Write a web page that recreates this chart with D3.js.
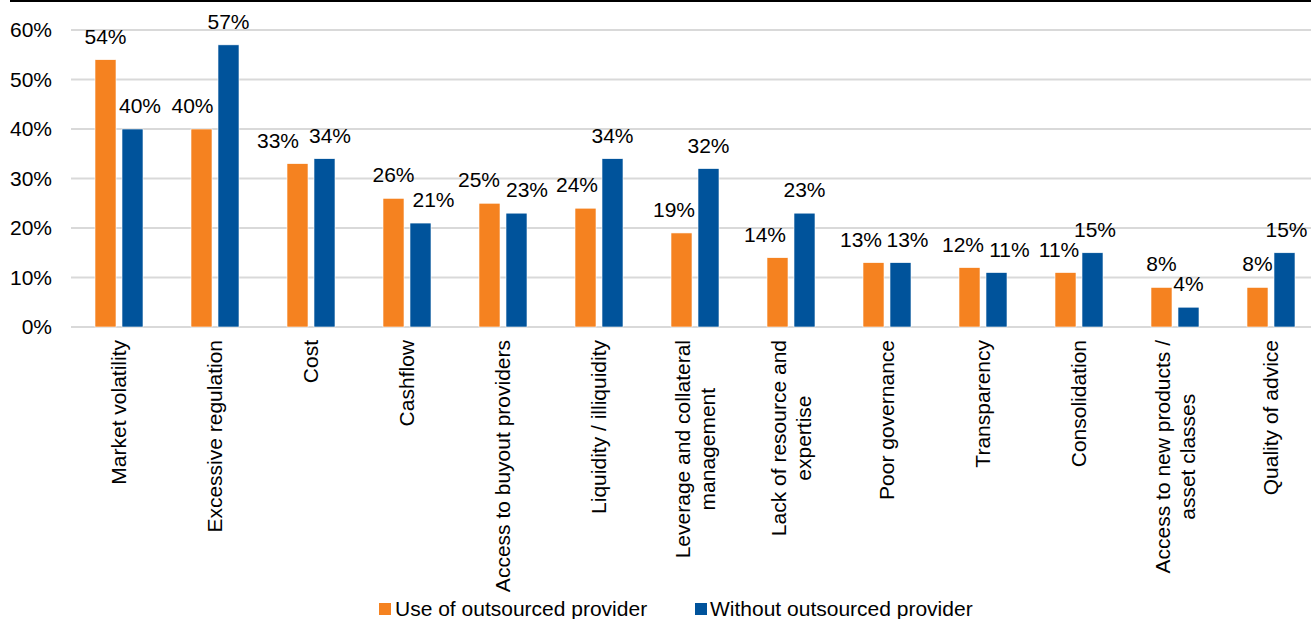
<!DOCTYPE html>
<html>
<head>
<meta charset="utf-8">
<script src="https://cdn.jsdelivr.net/npm/d3@7"></script>
<style>
  html, body { margin: 0; padding: 0; background: #fff; }
  svg { display: block; font-family: "Liberation Sans", Arial, sans-serif; }
</style>
</head>
<body>
<svg id="chart" width="1311" height="619"></svg>
<script>
// Survey categories (line breaks as printed on the axis)
const categories = [
  ["Market volatility"],
  ["Excessive regulation"],
  ["Cost"],
  ["Cashflow"],
  ["Access to buyout providers"],
  ["Liquidity / illiquidity"],
  ["Leverage and collateral", "management"],
  ["Lack of resource and", "expertise"],
  ["Poor governance"],
  ["Transparency"],
  ["Consolidation"],
  ["Access to new products /", "asset classes"],
  ["Quality of advice"]
];
const seriesNames = ["Use of outsourced provider", "Without outsourced provider"];
const withProvider = [54, 40, 33, 26, 25, 24, 19, 14, 13, 12, 11, 8, 8];
const withoutProvider = [40, 57, 34, 21, 23, 34, 32, 23, 13, 11, 15, 4, 15];
const yTicks = [0, 10, 20, 30, 40, 50, 60];
const colors = ["#F58220", "#00539B"];

// horizontal nudges (px) that keep neighbouring value labels apart: [orange, blue]
const labelNudge = [
  [0, 7.5], [-9, 0], [-19.5, 5.5], [0, 13], [-10.5, 10.5], [-8.5, 0], [-7.5, 0],
  [-12.5, 0], [-12.5, 7], [-6.5, 13], [-6.5, 2.5], [0, 0], [0, 2]
];

const svg = d3.select("#chart");
const W = 1311;

const keys = categories.map(c => c.join(" "));
const rows = keys.map((k, i) => ({
  key: k, lines: categories[i],
  values: [withProvider[i], withoutProvider[i]],
  nudge: labelNudge[i]
}));

const x0 = d3.scaleBand().domain(keys).range([71, 1319]).paddingInner(0.5).paddingOuter(0.25);
const x1 = d3.scaleBand().domain([0, 1]).range([0, x0.bandwidth()]).paddingInner(0.222);
const y = d3.scaleLinear().domain([0, 60]).range([327, 30]);

// top rule
svg.append("rect").attr("x", 10).attr("y", 0).attr("width", W - 10).attr("height", 2).attr("fill", "#000");

// gridlines
svg.append("g").selectAll("line").data(yTicks).join("line")
  .attr("x1", 71).attr("x2", W)
  .attr("y1", d => y(d)).attr("y2", d => y(d))
  .attr("stroke", "#d9d9d9").attr("stroke-width", 2);

// y tick labels
svg.append("g").selectAll("text").data(yTicks).join("text")
  .attr("x", 52).attr("y", d => y(d)).attr("dy", "0.35em")
  .attr("text-anchor", "end").attr("font-size", 21).attr("fill", "#000")
  .text(d => d + "%");

// bars
const groups = svg.append("g").selectAll("g").data(rows).join("g")
  .attr("transform", d => `translate(${x0(d.key)},0)`);

groups.selectAll("rect").data(d => d.values.map((v, s) => ({ v, s }))).join("rect")
  .attr("x", d => x1(d.s)).attr("width", x1.bandwidth())
  .attr("y", d => y(d.v)).attr("height", d => y(0) - y(d.v))
  .attr("fill", d => colors[d.s])
  .attr("stroke", "#fff").attr("stroke-width", 0.6);

groups.selectAll("text.val").data(d => d.values.map((v, s) => ({ v, s, n: d.nudge[s] }))).join("text")
  .attr("class", "val")
  .attr("x", d => x1(d.s) + x1.bandwidth() / 2 + d.n)
  .attr("y", d => y(d.v) - 16)
  .attr("text-anchor", "middle").attr("font-size", 21).attr("fill", "#000")
  .text(d => d.v + "%");

// category labels, rotated, top-aligned under the axis
const labelTop = 340;
const lineGap = 25;
rows.forEach(r => {
  const cx = x0(r.key) + x0.bandwidth() / 2;
  const n = r.lines.length;
  const g = svg.append("g");
  const texts = r.lines.map((line, i) => {
    const off = (i - (n - 1) / 2) * lineGap;
    return g.append("text")
      .attr("font-size", 21).attr("fill", "#000")
      .attr("text-anchor", "middle")
      .attr("dy", "0.35em")
      .datum(off)
      .text(line);
  });
  const maxLen = d3.max(texts, t => t.node().getComputedTextLength());
  const cy = labelTop + maxLen / 2;
  texts.forEach(t => {
    const off = t.datum();
    t.attr("transform", `translate(${cx + off},${cy}) rotate(-90)`);
  });
});

// legend
const legend = [{ x: 379, tx: 395 }, { x: 695, tx: 710 }];
legend.forEach((l, i) => {
  svg.append("rect").attr("x", l.x).attr("y", 603).attr("width", 12).attr("height", 12).attr("fill", colors[i]);
  svg.append("text").attr("x", l.tx).attr("y", 616).attr("font-size", 21).attr("fill", "#000").text(seriesNames[i]);
});
</script>
</body>
</html>
